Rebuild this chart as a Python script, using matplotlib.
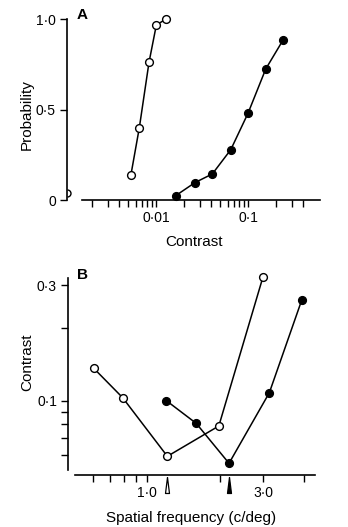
import matplotlib
matplotlib.use("Agg")
import matplotlib.pyplot as plt
from matplotlib.transforms import blended_transform_factory
from matplotlib.ticker import NullFormatter
from matplotlib.path import Path

plt.rcParams['font.family'] = ['Liberation Sans', 'DejaVu Sans']

# ---- Panel A data ----
contrast_open = [0.00535, 0.0066, 0.0084, 0.0101, 0.0129]
prob_open = [0.14, 0.40, 0.76, 0.967, 1.0]
contrast_filled = [0.0164, 0.0265, 0.041, 0.065, 0.100, 0.156, 0.242]
prob_filled = [0.024, 0.096, 0.144, 0.278, 0.479, 0.724, 0.886]
blank_prob = 0.037  # probability at zero contrast (drawn on the y axis)

a_xticks_major = [0.01, 0.1]
a_xticklabels = ["0·01", "0·1"]
a_xticks_minor = [0.002, 0.003, 0.004, 0.005, 0.006, 0.007, 0.008, 0.009,
                  0.02, 0.03, 0.04, 0.05, 0.06, 0.07, 0.08, 0.09,
                  0.2, 0.3, 0.4]
a_yticks = [0, 0.5, 1.0]
a_yticklabels = ["0", "0·5", "1·0"]

# ---- Panel B data ----
freq_open = [0.603, 0.792, 1.21, 1.97, 2.99]
thr_open = [0.136, 0.103, 0.059, 0.0787, 0.323]
freq_filled = [1.20, 1.59, 2.17, 3.18, 4.32]
thr_filled = [0.100, 0.0807, 0.0552, 0.108, 0.260]
arrow_open_freq = 1.21
arrow_filled_freq = 2.17

b_xticks_major = [1.0, 3.0]
b_xticklabels = ["1·0", "3·0"]
b_xticks_minor = [0.6, 0.7, 0.8, 0.9, 2.0, 4.4]
b_yticks_major = [0.1, 0.3]
b_yticklabels = ["0·1", "0·3"]
b_yticks_minor = [0.06, 0.07, 0.08, 0.09, 0.2]

W, H = 348, 527
fig = plt.figure(figsize=(W / 100, H / 100), dpi=100)

def px_axes(x0, x1, ytop, ybot):
    return fig.add_axes([x0 / W, 1 - ybot / H, (x1 - x0) / W, (ybot - ytop) / H])

lw = 1.1
ms = 5.6
mew = 1.0
tick_fs = 10
label_fs = 11

def style(ax):
    for s in ['top', 'right']:
        ax.spines[s].set_visible(False)
    for s in ['left', 'bottom']:
        ax.spines[s].set_linewidth(1.2)
    ax.tick_params(which='both', direction='out', length=5, width=1.0,
                   labelsize=tick_fs, pad=3)
    ax.patch.set_alpha(0)

# ---------------- Panel A ----------------
axA = px_axes(67, 320, 19, 200)
axA.set_xscale('log')
axA.set_xlim(0.00108, 0.606)
axA.set_ylim(0, 1.0)
style(axA)
axA.spines['bottom'].set_bounds(0.00157, 0.606)
axA.spines['left'].set_bounds(0, 1.0)
axA.set_xticks(a_xticks_major)
axA.set_xticklabels(a_xticklabels)
axA.set_xticks(a_xticks_minor, minor=True)
axA.xaxis.set_minor_formatter(NullFormatter())
axA.set_yticks(a_yticks)
axA.set_yticklabels(a_yticklabels)

axA.plot(contrast_open, prob_open, '-o', color='black', lw=lw, ms=ms,
         mfc='white', mec='black', mew=mew, clip_on=False, zorder=3)
axA.plot(contrast_filled, prob_filled, '-o', color='black', lw=lw, ms=ms,
         mfc='black', mec='black', mew=mew, clip_on=False, zorder=3)
trA = blended_transform_factory(axA.transAxes, axA.transData)
half_circle = Path.arc(-90, 90)
axA.plot([0.0], [blank_prob], marker=half_circle, ms=ms * 0.9, mfc='none',
         mec='black', mew=mew, transform=trA, clip_on=False, zorder=1,
         linestyle='none')

axA.set_xlabel("Contrast", fontsize=label_fs, labelpad=7)
axA.set_ylabel("Probability", fontsize=label_fs)
axA.yaxis.set_label_coords(-0.13, 0.47)
fig.text(82 / W, 1 - 15 / H, "A", fontsize=11, fontweight='bold',
         ha='center', va='center')

# ---------------- Panel B ----------------
axB = px_axes(68, 315, 278, 475)
axB.set_xscale('log')
axB.set_yscale('log')
axB.set_xlim(0.472, 4.90)
axB.set_ylim(0.0494, 0.321)
style(axB)
axB.spines['bottom'].set_bounds(0.504, 4.90)
axB.spines['left'].set_bounds(0.052, 0.321)
axB.set_xticks(b_xticks_major)
axB.set_xticklabels(b_xticklabels)
axB.set_xticks(b_xticks_minor, minor=True)
axB.xaxis.set_minor_formatter(NullFormatter())
axB.set_yticks(b_yticks_major)
axB.set_yticklabels(b_yticklabels)
axB.set_yticks(b_yticks_minor, minor=True)
axB.yaxis.set_minor_formatter(NullFormatter())

axB.plot(freq_open, thr_open, '-o', color='black', lw=lw, ms=ms,
         mfc='white', mec='black', mew=mew, clip_on=False, zorder=3)
axB.plot(freq_filled, thr_filled, '-o', color='black', lw=lw, ms=ms,
         mfc='black', mec='black', mew=mew, clip_on=False, zorder=3)

# arrowheads under the axis
trB = blended_transform_factory(axB.transData, axB.transAxes)
arrow_marker = [(0, 1), (-0.25, -1), (0.25, -1), (0, 1)]
axB.plot([arrow_open_freq], [-0.05], marker=arrow_marker, ms=11.5,
         mfc='white', mec='black', mew=0.9, transform=trB, clip_on=False)
axB.plot([arrow_filled_freq], [-0.05], marker=arrow_marker, ms=11.5,
         mfc='black', mec='black', mew=0.9, transform=trB, clip_on=False)

axB.set_xlabel("Spatial frequency (c/deg)", fontsize=label_fs, labelpad=8)
axB.set_ylabel("Contrast", fontsize=label_fs)
axB.yaxis.set_label_coords(-0.138, 0.57)
fig.text(82 / W, 1 - 275 / H, "B", fontsize=11, fontweight='bold',
         ha='center', va='center')

fig.savefig("out.png", dpi=100, facecolor='white')
